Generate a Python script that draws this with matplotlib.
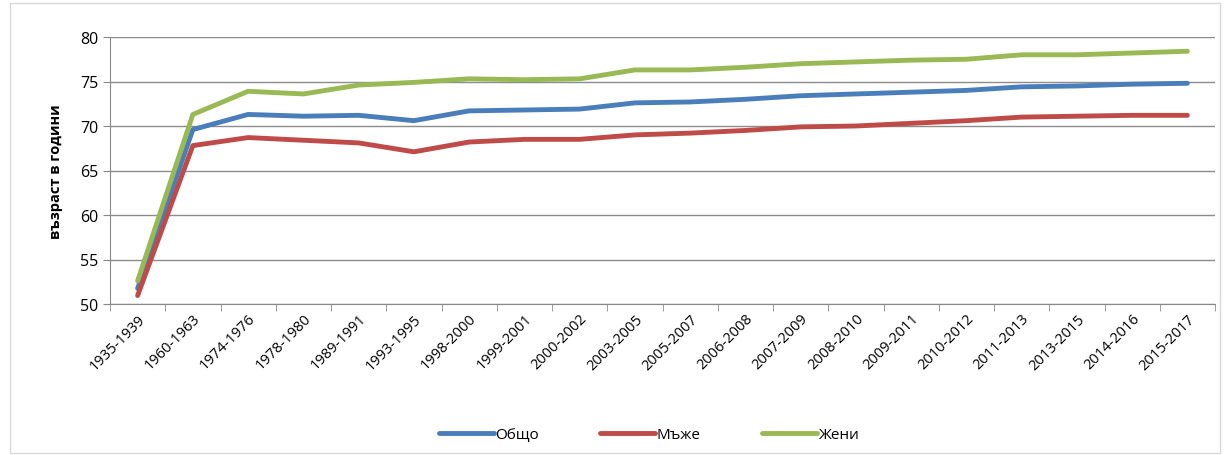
import matplotlib.pyplot as plt
from matplotlib.patches import Rectangle

periods = ['1935-1939', '1960-1963', '1974-1976', '1978-1980', '1989-1991', '1993-1995',
           '1998-2000', '1999-2001', '2000-2002', '2003-2005', '2005-2007', '2006-2008',
           '2007-2009', '2008-2010', '2009-2011', '2010-2012', '2011-2013', '2013-2015',
           '2014-2016', '2015-2017']
total = [51.75, 69.6, 71.3, 71.1, 71.2, 70.6, 71.7, 71.8, 71.9, 72.6,
         72.7, 73.0, 73.4, 73.6, 73.8, 74.0, 74.4, 74.5, 74.7, 74.8]
men = [50.95, 67.8, 68.7, 68.4, 68.1, 67.1, 68.2, 68.5, 68.5, 69.0,
       69.2, 69.5, 69.9, 70.0, 70.3, 70.6, 71.0, 71.1, 71.2, 71.2]
women = [52.6, 71.3, 73.9, 73.6, 74.6, 74.9, 75.3, 75.2, 75.3, 76.3,
         76.3, 76.6, 77.0, 77.2, 77.4, 77.5, 78.0, 78.0, 78.2, 78.4]

plt.rcParams['font.family'] = ['Open Sans', 'DejaVu Sans']

fig = plt.figure(figsize=(12.31, 4.56), dpi=100)
ax = fig.add_axes([110 / 1231, 1 - 305 / 456, 1105 / 1231, 267 / 456])

x = range(len(periods))
ax.plot(x, total, color='#4A7EBB', lw=3.5, label='Общо', solid_capstyle='round')
ax.plot(x, men, color='#BE4B48', lw=3.5, label='Мъже', solid_capstyle='round')
ax.plot(x, women, color='#98B954', lw=3.5, label='Жени', solid_capstyle='round')

ax.set_ylim(50, 80)
ax.set_yticks(range(50, 81, 5))
ax.set_xlim(-0.5, len(periods) - 0.5)
ax.set_xticks(list(x))
ax.set_xticklabels(periods, rotation=45, ha='right', rotation_mode='anchor', fontsize=10.5)
ax.set_xticks([i - 0.5 for i in range(len(periods) + 1)], minor=True)
ax.tick_params(axis='x', which='major', length=0, pad=5)
ax.tick_params(axis='x', which='minor', length=5, color='#888888')
ax.tick_params(axis='y', length=5, color='#888888', labelsize=11.5)
ax.grid(axis='y', color='#8c8c8c', lw=1)
ax.set_axisbelow(True)
for s in ['top', 'right']:
    ax.spines[s].set_visible(False)
for s in ['left', 'bottom']:
    ax.spines[s].set_color('#888888')
ax.set_ylabel('възраст в години', fontsize=10.5, fontweight='bold', labelpad=12)

fig.legend(loc='center', bbox_to_anchor=(0.527, 1 - 436 / 456), ncol=3, frameon=False,
           fontsize=11, handlelength=3.6, handletextpad=0.1, columnspacing=4.0)

fig.patches.append(Rectangle((10 / 1231, 2 / 456), 1210 / 1231, 450 / 456, transform=fig.transFigure,
                             fill=False, edgecolor='#d9d9d9', lw=1))

fig.savefig('out.png', dpi=100)
